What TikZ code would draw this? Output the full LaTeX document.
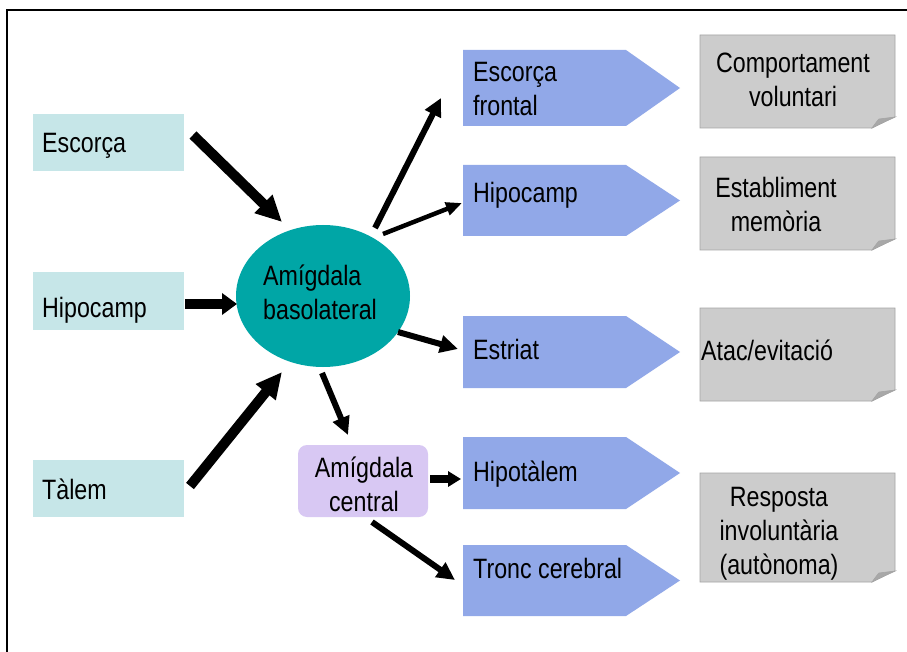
\documentclass[tikz,border=0pt]{standalone}
\usepackage{fontspec}
\setmainfont{Liberation Sans}[FakeStretch=0.83]
\usetikzlibrary{arrows.meta,shapes.geometric}
\definecolor{boxcyan}{RGB}{198,230,232}
\definecolor{ellteal}{RGB}{0,166,166}
\definecolor{pentblue}{RGB}{145,168,232}
\definecolor{notegray}{RGB}{204,204,204}
\definecolor{noteedge}{RGB}{165,165,165}
\definecolor{folddark}{RGB}{168,168,168}
\definecolor{lavender}{RGB}{216,200,243}
\newcommand\gnote[2]{%
  \filldraw[fill=notegray, draw=noteedge, line width=0.8pt]
    (700,#1) -- (895,#1) -- (895,{#2-11}) .. controls (886,{#2-7}) and (878,{#2-3}) .. (872,#2) -- (700,#2) -- cycle;
  \filldraw[fill=folddark, draw=noteedge, line width=0.6pt]
    (872,#2) .. controls (875,{#2-4}) and (877,{#2-7}) .. (879,{#2-9}) -- (895,{#2-11}) .. controls (886,{#2-7}) and (878,{#2-3}) .. cycle;}
\newcommand\pentshape[2]{%
  \fill[pentblue] (463,#1) -- (626,#1) -- (680,{(#1+#2)/2}) -- (626,#2) -- (463,#2) -- cycle;}
\tikzset{
  txt/.style={font=\fontsize{28}{34}\selectfont, inner sep=0pt, text=black},
  inbox/.style={fill=boxcyan, minimum width=151pt, minimum height=57pt, inner sep=0pt},
  arrbase/.style={draw=black},
  thickarr/.style={arrbase, line width=10pt, -{Triangle[length=26pt,width=24pt]}},
  midarr/.style={arrbase, line width=6pt, -{Triangle[length=18pt,width=17pt]}},
  thinarr/.style={arrbase, line width=4.5pt, -{Triangle[length=16pt,width=13pt]}}
}
\begin{document}
\begin{tikzpicture}[x=1pt,y=-1pt]
\useasboundingbox (0,0) rectangle (907,652);
\fill[white] (0,0) rectangle (907,652);
% frame
\draw[line width=2pt] (7,660) -- (7,10) -- (915,10);

% left boxes
\node[inbox] (esc) at (108.5,142.5) {};
\node[inbox] (hip) at (108.5,301) {};
\node[inbox] (tal) at (108.5,488) {};
\node[txt, anchor=base west] (esct) at (42,153) {Escorça};
\node[txt, anchor=base west] (hipt) at (42,317) {Hipocamp};
\node[txt, anchor=base west] (talt) at (42,499) {Tàlem};

% central ellipse
\node[ellipse, fill=ellteal, minimum width=174pt, minimum height=142pt, inner sep=0pt] (bla) at (323,296) {};
\node[txt, align=left, anchor=west] (blat) at (263,292) {Amígdala\\basolateral};

% amygdala central
\node[fill=lavender, rounded corners=9pt, minimum width=130pt, minimum height=72pt, inner sep=0pt] (cen) at (363,481) {};
\node[txt, align=center] (cent) at (364,484) {Amígdala\\central};

% pentagons
\pentshape{50}{126}
\pentshape{165}{236}
\pentshape{316}{388}
\pentshape{437}{509}
\pentshape{545}{616}
\node[txt, align=left, anchor=west] (pfr) at (473,89.5) {Escorça\\frontal};
\node[txt, anchor=base west] (phi) at (473,203) {Hipocamp};
\node[txt, anchor=base west] (pes) at (473,359) {Estriat};
\node[txt, anchor=base west] (pht) at (473,481) {Hipotàlem};
\node[txt, anchor=base west] (ptc) at (473,578) {Tronc cerebral};

% notes
\gnote{35}{128}
\gnote{157}{250}
\gnote{308}{401}
\gnote{473}{582}
\node[txt, align=center] (n1) at (793,80) {Comportament\\voluntari};
\node[txt, align=center] (n2) at (776,204.3) {Establiment\\memòria};
\node[txt, anchor=base west] (n3) at (701,360) {Atac/evitació};
\node[txt, align=center] (n4) at (779,533.7) {Resposta\\involuntària\\(autònoma)};

% arrow end points
\coordinate (a1s) at (193,135); \coordinate (a1e) at (282,222);
\coordinate (a2s) at (185,304); \coordinate (a2e) at (237,304);
\coordinate (a3s) at (190,486); \coordinate (a3e) at (282,372);
\coordinate (a4s) at (375,228); \coordinate (a4e) at (441,98);
\coordinate (a5s) at (383,234); \coordinate (a5e) at (462,203);
\coordinate (a6s) at (398,332); \coordinate (a6e) at (458,349);
\coordinate (a7s) at (322,373); \coordinate (a7e) at (348,435);
\coordinate (a8s) at (430,479); \coordinate (a8e) at (461,479);
\coordinate (a9s) at (372,522); \coordinate (a9e) at (455,580);

\draw[thickarr] (a1s) -- (a1e);
\draw[arrbase, line width=10pt, -{Triangle[length=15pt,width=21pt]}] (a2s) -- (a2e);
\draw[thickarr] (a3s) -- (a3e);
\draw[midarr] (a4s) -- (a4e);
\draw[thinarr] (a5s) -- (a5e);
\draw[midarr] (a6s) -- (a6e);
\draw[midarr] (a7s) -- (a7e);
\draw[arrbase, line width=8pt, -{Triangle[length=13pt,width=15pt]}] (a8s) -- (a8e);
\draw[midarr] (a9s) -- (a9e);
\end{tikzpicture}
\end{document}
